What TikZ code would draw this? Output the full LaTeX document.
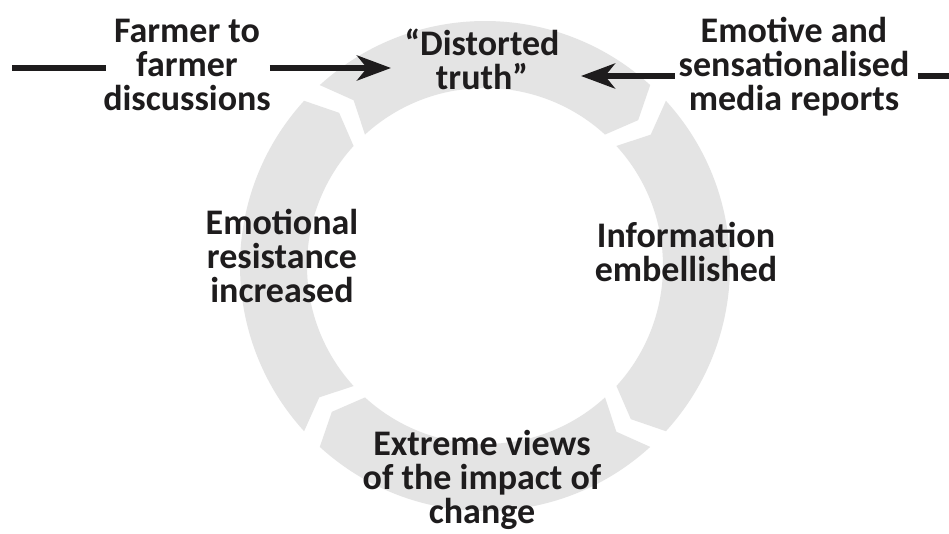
\documentclass[tikz,border=0pt]{standalone}
\usepackage{fontspec}
\setmainfont{Carlito}
\usetikzlibrary{arrows.meta}
\definecolor{ringgray}{RGB}{228,228,228}
\definecolor{ink}{RGB}{30,28,29}
\begin{document}
\begin{tikzpicture}[x=1pt,y=1pt,
  labeltext/.style={font=\bfseries\fontsize{36}{34}\selectfont, text=ink, align=center, inner sep=0pt},
  feed/.style={draw=ink, line width=5.5pt},
  feedarrow/.style={feed, -{Stealth[length=34pt,width=25pt,inset=10pt]}},
  segment/.style={fill=ringgray}]
\useasboundingbox (0,0) rectangle (949,533);
\fill[white] (0,0) rectangle (949,533);
% cycle ring: four chevron-ended arc segments running clockwise
\def\ringout{245}\def\ringin{178}\def\ringmid{211.5}
\def\ringgap{2.6}\def\tipdepth{4}
\begin{scope}[shift={(485,267)}]
\foreach \sa/\ea in {135/45, 45/-45, -45/-135, -135/-225} {
  \fill[segment] ({\sa-\ringgap}:\ringout)
    arc[start angle={\sa-\ringgap}, end angle={\ea+\ringgap}, radius=\ringout]
    -- ({\ea+\ringgap-\tipdepth}:\ringmid)
    -- ({\ea+\ringgap}:\ringin)
    arc[start angle={\ea+\ringgap}, end angle={\sa-\ringgap}, radius=\ringin]
    -- ({\sa-\ringgap-\tipdepth}:\ringmid) -- cycle;
}
\end{scope}
% stage labels
\node[labeltext] (distorted) at (482,474) {“Distorted\\truth”};
\node[labeltext] (information) at (686,281) {Information\\embellished};
\node[labeltext] (extreme) at (482,53) {Extreme views\\of the impact of\\change};
\node[labeltext] (emotional) at (282,277) {Emotional\\resistance\\increased};
% external influences
\node[labeltext] (farmer) at (187,468) {Farmer to\\farmer\\discussions};
\node[labeltext] (emotive) at (794,466) {Emotive and\\sensationalised\\media reports};
\coordinate (leftend) at (12,465);
\coordinate (ftip) at (391,465);
\coordinate (etip) at (581,457);
\coordinate (rightend) at (949,457);
\draw[feed] (leftend) -- ([xshift=3pt]farmer.west |- leftend);
\draw[feedarrow] ([xshift=-1pt]farmer.east |- ftip) -- (ftip);
\draw[feedarrow] ([xshift=-4pt]emotive.west |- etip) -- (etip);
\draw[feed] ([xshift=8pt]emotive.east |- rightend) -- (rightend);
\end{tikzpicture}
\end{document}
